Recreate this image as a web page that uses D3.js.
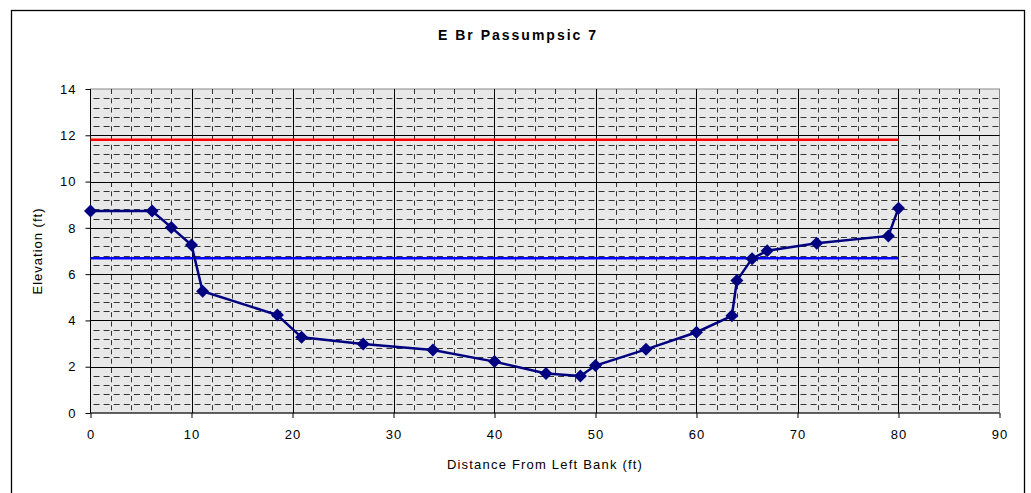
<!DOCTYPE html>
<html><head><meta charset="utf-8">
<script src="https://cdnjs.cloudflare.com/ajax/libs/d3/7.8.5/d3.min.js"></script>
<style>body{margin:0;background:#fff}svg{display:block}text{font-family:"Liberation Sans",Arial,sans-serif;fill:#000}</style>
</head><body>
<script>
const title = "E Br Passumpsic 7";
const xLabel = "Distance From Left Bank  (ft)";
const yLabel = "Elevation (ft)";
const distance = [0, 6.1, 8, 10, 11.1, 18.5, 20.9, 27, 33.9, 40, 45.1, 48.5, 50, 55, 60, 63.5, 64, 65.5, 67, 71.9, 79, 80];
const elevation = [8.73, 8.73, 8.02, 7.26, 5.26, 4.23, 3.27, 2.98, 2.72, 2.22, 1.71, 1.6, 2.05, 2.75, 3.49, 4.2, 5.72, 6.67, 7.01, 7.33, 7.65, 8.85];
const redLevel = [[0, 11.81], [80, 11.81]];
const blueLevel = [[0, 6.69], [80, 6.69]];
const xTicks = [0, 10, 20, 30, 40, 50, 60, 70, 80, 90];
const yTicks = [0, 2, 4, 6, 8, 10, 12, 14];

const W = 1031, H = 493;
const svg = d3.select("body").append("svg").attr("width", W).attr("height", H);
svg.append("rect").attr("x", 11.5).attr("y", 10.5).attr("width", 1013).attr("height", 500)
  .attr("fill", "#fff").attr("stroke", "#000").attr("stroke-width", 1.3);

const L = 90.5, R = 999.5, T = 89, B = 413;
const x = d3.scaleLinear().domain([0, 90]).range([L, R]);
const y = d3.scaleLinear().domain([0, 14]).range([B, T]);

svg.append("rect").attr("x", L).attr("y", T).attr("width", R - L).attr("height", B - T)
  .attr("fill", "#e8e8e8").attr("stroke", "#888").attr("stroke-width", 1);

// minor grid
const g = svg.append("g");
const minorX = d3.range(0, 90.001, 2).filter(v => v % 10 !== 0);
const minorY = d3.range(0, 14.001, 0.4).map(v => +v.toFixed(1)).filter(v => Math.abs(v / 2 - Math.round(v / 2)) > 1e-6);
g.selectAll(".mx").data(minorX).join("line")
  .attr("x1", d => Math.round(x(d)) + 0.5).attr("x2", d => Math.round(x(d)) + 0.5)
  .attr("y1", T).attr("y2", B).attr("stroke", "#333").attr("stroke-dasharray", "5,4.3");
g.selectAll(".my").data(minorY).join("line")
  .attr("y1", d => Math.round(y(d)) + 0.5).attr("y2", d => Math.round(y(d)) + 0.5)
  .attr("x1", L).attr("x2", R).attr("stroke", "#333").attr("stroke-dasharray", "6,4.1")
  .attr("stroke-dashoffset", -3);
// major grid
g.selectAll(".MX").data(xTicks.filter(v => v > 0 && v < 90)).join("line")
  .attr("x1", d => Math.round(x(d)) + 0.5).attr("x2", d => Math.round(x(d)) + 0.5)
  .attr("y1", T).attr("y2", B).attr("stroke", "#000");
g.selectAll(".MY").data(yTicks.filter(v => v > 0 && v < 14)).join("line")
  .attr("y1", d => Math.round(y(d)) + 0.5).attr("y2", d => Math.round(y(d)) + 0.5)
  .attr("x1", L).attr("x2", R).attr("stroke", "#000");

// axes
const xa = svg.append("g").attr("transform", `translate(0,${B})`)
  .call(d3.axisBottom(x).tickValues(xTicks).tickSize(5).tickPadding(12));
const ya = svg.append("g").attr("transform", `translate(${L},0)`)
  .call(d3.axisLeft(y).tickValues(yTicks).tickSize(5).tickPadding(9));
[xa, ya].forEach(a => {
  a.selectAll("path.domain").attr("stroke", "#000");
  a.selectAll("line").attr("stroke", "#000");
  a.selectAll("text").attr("font-size", 13).attr("letter-spacing", "1px")
    .style("font-family", '"Liberation Sans",Arial,sans-serif');
});
xa.select("path.domain").attr("d", `M${L},0H${R}`);
ya.select("path.domain").attr("d", `M0,${B}V${T}`);

// level lines
const ln = d3.line().x(d => x(d[0])).y(d => y(d[1]));
svg.append("path").attr("d", ln(redLevel)).attr("stroke", "#ff0000").attr("stroke-width", 2.5).attr("fill", "none");
svg.append("path").attr("d", ln(blueLevel)).attr("stroke", "#0000ff").attr("stroke-width", 2.5).attr("fill", "none");

// data
const pts = distance.map((d, i) => [d, elevation[i]]);
svg.append("path").attr("d", ln(pts)).attr("stroke", "#000080").attr("stroke-width", 2.5).attr("fill", "none");
const r = 6.5;
const diamond = `M0,${-r}L${r},0L0,${r}L${-r},0Z`;
svg.selectAll(".pt").data(pts).join("path")
  .attr("d", diamond).attr("transform", d => `translate(${x(d[0])},${y(d[1])})`)
  .attr("fill", "#000080");

// titles
svg.append("text").attr("x", 518).attr("y", 40).attr("text-anchor", "middle")
  .attr("font-size", 14).attr("font-weight", "bold").attr("letter-spacing", "2px").text(title);
svg.append("text").attr("x", (L + R) / 2).attr("y", 469).attr("text-anchor", "middle")
  .attr("font-size", 13).attr("letter-spacing", "1.2px").text(xLabel);
svg.append("text").attr("transform", `translate(42,${(T + B) / 2}) rotate(-90)`).attr("text-anchor", "middle")
  .attr("font-size", 13).attr("letter-spacing", "1px").text(yLabel);
</script>
</body></html>
